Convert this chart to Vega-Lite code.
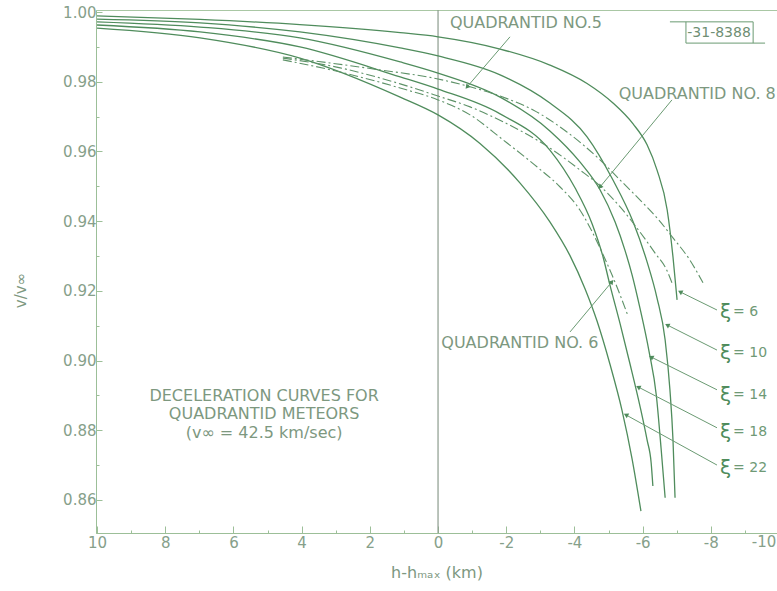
{
  "$schema": "https://vega.github.io/schema/vega-lite/v6.json",
  "width": 681,
  "height": 523,
  "autosize": {"type": "none"},
  "padding": {"left": 96, "top": 10, "right": 0, "bottom": 58},
  "background": "white",
  "config": {
    "view": {"stroke": "#a9c7a4", "strokeWidth": 1},
    "font": "DejaVu Sans"
  },
  "datasets": {
    "curves": [
      {"s": "xi6", "k": "solid", "x": 10, "y": 0.9989}, {"s": "xi6", "k": "solid", "x": 6.98, "y": 0.9979}, {"s": "xi6", "k": "solid", "x": 4.05, "y": 0.9964}, {"s": "xi6", "k": "solid", "x": 1.11, "y": 0.9941}, {"s": "xi6", "k": "solid", "x": 0, "y": 0.9929}, {"s": "xi6", "k": "solid", "x": -1.82, "y": 0.9894}, {"s": "xi6", "k": "solid", "x": -3.28, "y": 0.9848}, {"s": "xi6", "k": "solid", "x": -4.37, "y": 0.9795}, {"s": "xi6", "k": "solid", "x": -5.13, "y": 0.9739}, {"s": "xi6", "k": "solid", "x": -5.72, "y": 0.9679}, {"s": "xi6", "k": "solid", "x": -6.13, "y": 0.9619}, {"s": "xi6", "k": "solid", "x": -6.42, "y": 0.9547}, {"s": "xi6", "k": "solid", "x": -6.72, "y": 0.9432}, {"s": "xi6", "k": "solid", "x": -6.89, "y": 0.9297}, {"s": "xi6", "k": "solid", "x": -7.01, "y": 0.9174},
      {"s": "xi10", "k": "solid", "x": 10, "y": 0.998}, {"s": "xi10", "k": "solid", "x": 6.98, "y": 0.9969}, {"s": "xi10", "k": "solid", "x": 4.05, "y": 0.9943}, {"s": "xi10", "k": "solid", "x": 1.11, "y": 0.9897}, {"s": "xi10", "k": "solid", "x": 0, "y": 0.9874}, {"s": "xi10", "k": "solid", "x": -1.82, "y": 0.982}, {"s": "xi10", "k": "solid", "x": -3.28, "y": 0.9739}, {"s": "xi10", "k": "solid", "x": -4.37, "y": 0.9642}, {"s": "xi10", "k": "solid", "x": -5.13, "y": 0.9518}, {"s": "xi10", "k": "solid", "x": -5.72, "y": 0.9398}, {"s": "xi10", "k": "solid", "x": -6.13, "y": 0.9283}, {"s": "xi10", "k": "solid", "x": -6.42, "y": 0.918}, {"s": "xi10", "k": "solid", "x": -6.66, "y": 0.9059}, {"s": "xi10", "k": "solid", "x": -6.8, "y": 0.8916}, {"s": "xi10", "k": "solid", "x": -6.89, "y": 0.8772}, {"s": "xi10", "k": "solid", "x": -6.95, "y": 0.8606},
      {"s": "xi14", "k": "solid", "x": 10, "y": 0.9972}, {"s": "xi14", "k": "solid", "x": 6.98, "y": 0.9957}, {"s": "xi14", "k": "solid", "x": 4.05, "y": 0.9926}, {"s": "xi14", "k": "solid", "x": 1.11, "y": 0.9857}, {"s": "xi14", "k": "solid", "x": 0, "y": 0.9825}, {"s": "xi14", "k": "solid", "x": -1.82, "y": 0.9756}, {"s": "xi14", "k": "solid", "x": -3.28, "y": 0.9659}, {"s": "xi14", "k": "solid", "x": -4.16, "y": 0.957}, {"s": "xi14", "k": "solid", "x": -4.75, "y": 0.949}, {"s": "xi14", "k": "solid", "x": -5.19, "y": 0.9398}, {"s": "xi14", "k": "solid", "x": -5.48, "y": 0.9317}, {"s": "xi14", "k": "solid", "x": -5.69, "y": 0.9246}, {"s": "xi14", "k": "solid", "x": -5.92, "y": 0.9151}, {"s": "xi14", "k": "solid", "x": -6.19, "y": 0.9025}, {"s": "xi14", "k": "solid", "x": -6.4, "y": 0.8901}, {"s": "xi14", "k": "solid", "x": -6.54, "y": 0.8749}, {"s": "xi14", "k": "solid", "x": -6.66, "y": 0.8606},
      {"s": "xi18", "k": "solid", "x": 10, "y": 0.9963}, {"s": "xi18", "k": "solid", "x": 6.98, "y": 0.9943}, {"s": "xi18", "k": "solid", "x": 4.05, "y": 0.99}, {"s": "xi18", "k": "solid", "x": 1.11, "y": 0.9814}, {"s": "xi18", "k": "solid", "x": 0, "y": 0.9779}, {"s": "xi18", "k": "solid", "x": -1.82, "y": 0.9708}, {"s": "xi18", "k": "solid", "x": -3.28, "y": 0.9604}, {"s": "xi18", "k": "solid", "x": -4.02, "y": 0.9495}, {"s": "xi18", "k": "solid", "x": -4.52, "y": 0.9392}, {"s": "xi18", "k": "solid", "x": -4.84, "y": 0.9297}, {"s": "xi18", "k": "solid", "x": -5.04, "y": 0.9217}, {"s": "xi18", "k": "solid", "x": -5.34, "y": 0.9105}, {"s": "xi18", "k": "solid", "x": -5.63, "y": 0.899}, {"s": "xi18", "k": "solid", "x": -5.92, "y": 0.887}, {"s": "xi18", "k": "solid", "x": -6.13, "y": 0.8772}, {"s": "xi18", "k": "solid", "x": -6.25, "y": 0.8706}, {"s": "xi18", "k": "solid", "x": -6.3, "y": 0.864},
      {"s": "xi22", "k": "solid", "x": 10, "y": 0.9954}, {"s": "xi22", "k": "solid", "x": 6.98, "y": 0.9926}, {"s": "xi22", "k": "solid", "x": 4.05, "y": 0.9868}, {"s": "xi22", "k": "solid", "x": 1.11, "y": 0.9756}, {"s": "xi22", "k": "solid", "x": 0, "y": 0.9705}, {"s": "xi22", "k": "solid", "x": -1.23, "y": 0.9623}, {"s": "xi22", "k": "solid", "x": -2.4, "y": 0.951}, {"s": "xi22", "k": "solid", "x": -3.28, "y": 0.9398}, {"s": "xi22", "k": "solid", "x": -3.87, "y": 0.9301}, {"s": "xi22", "k": "solid", "x": -4.31, "y": 0.9206}, {"s": "xi22", "k": "solid", "x": -4.66, "y": 0.9114}, {"s": "xi22", "k": "solid", "x": -5.04, "y": 0.899}, {"s": "xi22", "k": "solid", "x": -5.4, "y": 0.8855}, {"s": "xi22", "k": "solid", "x": -5.69, "y": 0.8718}, {"s": "xi22", "k": "solid", "x": -5.95, "y": 0.8568},
      {"s": "no5", "k": "dash", "x": 4.55, "y": 0.9871}, {"s": "no5", "k": "dash", "x": 3.17, "y": 0.9854}, {"s": "no5", "k": "dash", "x": 1.7, "y": 0.9834}, {"s": "no5", "k": "dash", "x": 0, "y": 0.9808}, {"s": "no5", "k": "dash", "x": -0.85, "y": 0.9788}, {"s": "no5", "k": "dash", "x": -1.82, "y": 0.9759}, {"s": "no5", "k": "dash", "x": -2.79, "y": 0.9719}, {"s": "no5", "k": "dash", "x": -3.78, "y": 0.9656}, {"s": "no5", "k": "dash", "x": -4.75, "y": 0.9576}, {"s": "no5", "k": "dash", "x": -5.34, "y": 0.9518}, {"s": "no5", "k": "dash", "x": -5.92, "y": 0.9461}, {"s": "no5", "k": "dash", "x": -6.45, "y": 0.9406}, {"s": "no5", "k": "dash", "x": -6.89, "y": 0.9352}, {"s": "no5", "k": "dash", "x": -7.38, "y": 0.9289}, {"s": "no5", "k": "dash", "x": -7.77, "y": 0.9223},
      {"s": "no8", "k": "dash", "x": 4.55, "y": 0.9868}, {"s": "no8", "k": "dash", "x": 2.87, "y": 0.984}, {"s": "no8", "k": "dash", "x": 1.11, "y": 0.9794}, {"s": "no8", "k": "dash", "x": 0, "y": 0.9759}, {"s": "no8", "k": "dash", "x": -0.94, "y": 0.9728}, {"s": "no8", "k": "dash", "x": -1.91, "y": 0.9685}, {"s": "no8", "k": "dash", "x": -3.37, "y": 0.9604}, {"s": "no8", "k": "dash", "x": -4.16, "y": 0.9547}, {"s": "no8", "k": "dash", "x": -4.75, "y": 0.9501}, {"s": "no8", "k": "dash", "x": -5.34, "y": 0.9441}, {"s": "no8", "k": "dash", "x": -5.92, "y": 0.9369}, {"s": "no8", "k": "dash", "x": -6.36, "y": 0.9309}, {"s": "no8", "k": "dash", "x": -6.72, "y": 0.9257}, {"s": "no8", "k": "dash", "x": -6.86, "y": 0.9223},
      {"s": "no6", "k": "dash", "x": 4.55, "y": 0.9863}, {"s": "no6", "k": "dash", "x": 2.87, "y": 0.9828}, {"s": "no6", "k": "dash", "x": 1.11, "y": 0.9782}, {"s": "no6", "k": "dash", "x": 0, "y": 0.9748}, {"s": "no6", "k": "dash", "x": -0.94, "y": 0.9705}, {"s": "no6", "k": "dash", "x": -1.91, "y": 0.9633}, {"s": "no6", "k": "dash", "x": -2.9, "y": 0.9556}, {"s": "no6", "k": "dash", "x": -3.58, "y": 0.9498}, {"s": "no6", "k": "dash", "x": -4.16, "y": 0.9432}, {"s": "no6", "k": "dash", "x": -4.75, "y": 0.9323}, {"s": "no6", "k": "dash", "x": -5.1, "y": 0.9246}, {"s": "no6", "k": "dash", "x": -5.34, "y": 0.9188}, {"s": "no6", "k": "dash", "x": -5.57, "y": 0.9128}
    ],
    "segments": [
      {"g": "xi", "x": -8.18, "y": 0.9145, "x2": -7.1, "y2": 0.9197},
      {"g": "xi", "x": -8.18, "y": 0.903, "x2": -6.72, "y2": 0.9102},
      {"g": "xi", "x": -8.18, "y": 0.8916, "x2": -6.25, "y2": 0.901},
      {"g": "xi", "x": -8.18, "y": 0.8807, "x2": -5.87, "y2": 0.8924},
      {"g": "xi", "x": -8.18, "y": 0.87, "x2": -5.51, "y2": 0.8844},
      {"g": "q58", "x": -2.11, "y": 0.9929, "x2": -0.85, "y2": 0.9785},
      {"g": "q58", "x": -6.86, "y": 0.9748, "x2": -4.75, "y2": 0.9498},
      {"g": "q6", "x": -3.87, "y": 0.9082, "x2": -5.1, "y2": 0.9226},
      {"g": "box", "x": -6.8, "y": 0.9972, "x2": -9.24, "y2": 0.9972},
      {"g": "box", "x": -7.27, "y": 0.9972, "x2": -7.27, "y2": 0.9911},
      {"g": "box", "x": -9.24, "y": 0.9972, "x2": -9.24, "y2": 0.9911},
      {"g": "box", "x": -7.27, "y": 0.9911, "x2": -9.59, "y2": 0.9911},
      {"g": "zero", "x": 0, "y": 0.8505, "x2": 0, "y2": 1.0006}
    ],
    "labels": [
      {"t": "QUADRANTID NO.5", "x": -2.58, "y": 0.997},
      {"t": "QUADRANTID NO. 8", "x": -7.6, "y": 0.9765},
      {"t": "QUADRANTID NO. 6", "x": -2.4, "y": 0.905},
      {"t": "DECELERATION CURVES FOR", "x": 5.1, "y": 0.8898},
      {"t": "QUADRANTID METEORS", "x": 5.1, "y": 0.8847},
      {"t": "(v∞ = 42.5 km/sec)", "x": 5.1, "y": 0.8792}
    ],
    "tag": [
      {"t": "-31-8388", "x": -8.24, "y": 0.994}
    ],
    "edge": [
      {"t": "-10", "x": -9.92, "y": 0.8478}
    ],
    "xi": [
      {"t": "= 6", "x": -8.27, "y": 0.914},
      {"t": "= 10", "x": -8.27, "y": 0.9022},
      {"t": "= 14", "x": -8.27, "y": 0.8901},
      {"t": "= 18", "x": -8.27, "y": 0.8795},
      {"t": "= 22", "x": -8.27, "y": 0.8692}
    ]
  },
  "encoding": {
    "x": {
      "field": "x", "type": "quantitative",
      "scale": {"domain": [10.03, -9.94], "nice": false, "zero": false},
      "axis": {
        "title": "h-hₘₐₓ (km)",
        "values": [10, 9, 8, 7, 6, 5, 4, 3, 2, 1, 0, -1, -2, -3, -4, -5, -6, -7, -8, -9],
        "labelExpr": "datum.value % 2 === 0 ? (datum.value < 0 ? '-' + abs(datum.value) : '' + datum.value) : ''",
        "tickSize": {"condition": {"test": "datum.value % 2 === 0", "value": -7}, "value": -3},
        "tickColor": "#9cbf98",
        "domainColor": "#9cbf98",
        "labelColor": "#86a08a",
        "labelFontSize": 15,
        "labelPadding": 9,
        "labelFlush": false,
        "labelOverlap": false,
        "titleColor": "#7d987f",
        "titleFontSize": 16,
        "titleFontWeight": "normal",
        "titlePadding": 10,
        "grid": false
      }
    },
    "y": {
      "field": "y", "type": "quantitative",
      "scale": {"domain": [0.8505, 1.0006], "nice": false, "zero": false},
      "axis": {
        "title": "v/v∞",
        "values": [0.86, 0.87, 0.88, 0.89, 0.9, 0.91, 0.92, 0.93, 0.94, 0.95, 0.96, 0.97, 0.98, 0.99, 1.0],
        "labelExpr": "round(datum.value * 100) % 2 === 0 ? format(datum.value, '.2f') : ''",
        "tickSize": {"condition": {"test": "round(datum.value * 100) % 2 === 0", "value": -6}, "value": -3},
        "tickColor": "#9cbf98",
        "domainColor": "#9cbf98",
        "labelColor": "#86a08a",
        "labelFontSize": 15,
        "labelPadding": 6,
        "titleColor": "#7d987f",
        "titleFontSize": 15,
        "titleFontWeight": "normal",
        "titleX": -68,
        "titleY": 280,
        "grid": false
      }
    }
  },
  "layer": [
    {
      "data": {"name": "segments"},
      "transform": [{"filter": "datum.g === 'zero'"}],
      "mark": {"type": "rule", "color": "#8c9c8e", "strokeWidth": 1.2},
      "encoding": {"x2": {"field": "x2"}, "y2": {"field": "y2"}}
    },
    {
      "data": {"name": "curves"},
      "transform": [{"filter": "datum.k === 'solid'"}],
      "mark": {"type": "line", "color": "#4f8c5c", "strokeWidth": 1.3, "interpolate": "monotone"},
      "encoding": {"detail": {"field": "s"}}
    },
    {
      "data": {"name": "curves"},
      "transform": [{"filter": "datum.k === 'dash'"}],
      "mark": {"type": "line", "color": "#5e9268", "strokeWidth": 1.1, "strokeDash": [9, 3, 2, 3], "interpolate": "monotone"},
      "encoding": {"detail": {"field": "s"}}
    },
    {
      "data": {"name": "segments"},
      "transform": [{"filter": "datum.g !== 'zero'"}],
      "mark": {"type": "rule", "color": "#6a9a72", "strokeWidth": 1},
      "encoding": {"x2": {"field": "x2"}, "y2": {"field": "y2"}}
    },
    {
      "data": {"name": "segments"},
      "transform": [{"filter": "datum.g === 'xi'"}],
      "mark": {"type": "point", "shape": "triangle-up", "filled": true, "size": 28, "angle": -62, "color": "#4f8c5c", "opacity": 1},
      "encoding": {"x": {"field": "x2", "type": "quantitative"}, "y": {"field": "y2", "type": "quantitative"}}
    },
    {
      "data": {"name": "segments"},
      "transform": [{"filter": "datum.g === 'q58'"}],
      "mark": {"type": "point", "shape": "triangle-up", "filled": true, "size": 28, "angle": -140, "color": "#4f8c5c", "opacity": 1},
      "encoding": {"x": {"field": "x2", "type": "quantitative"}, "y": {"field": "y2", "type": "quantitative"}}
    },
    {
      "data": {"name": "segments"},
      "transform": [{"filter": "datum.g === 'q6'"}],
      "mark": {"type": "point", "shape": "triangle-up", "filled": true, "size": 28, "angle": 40, "color": "#4f8c5c", "opacity": 1},
      "encoding": {"x": {"field": "x2", "type": "quantitative"}, "y": {"field": "y2", "type": "quantitative"}}
    },
    {
      "data": {"name": "labels"},
      "mark": {"type": "text", "align": "center", "baseline": "middle", "fontSize": 16, "color": "#7d987f"},
      "encoding": {"text": {"field": "t"}}
    },
    {
      "data": {"name": "tag"},
      "mark": {"type": "text", "align": "center", "baseline": "middle", "fontSize": 14, "color": "#6f8f74"},
      "encoding": {"text": {"field": "t"}}
    },
    {
      "data": {"name": "edge"},
      "mark": {"type": "text", "align": "right", "baseline": "middle", "fontSize": 15, "color": "#86a08a", "clip": false},
      "encoding": {"text": {"field": "t"}}
    },
    {
      "data": {"name": "xi"},
      "mark": {"type": "text", "align": "left", "baseline": "middle", "fontSize": 20, "color": "#4f8c5c", "text": "ξ"},
      "encoding": {}
    },
    {
      "data": {"name": "xi"},
      "mark": {"type": "text", "align": "left", "baseline": "middle", "fontSize": 14, "color": "#6f9a76", "dx": 13},
      "encoding": {"text": {"field": "t"}}
    }
  ]
}
